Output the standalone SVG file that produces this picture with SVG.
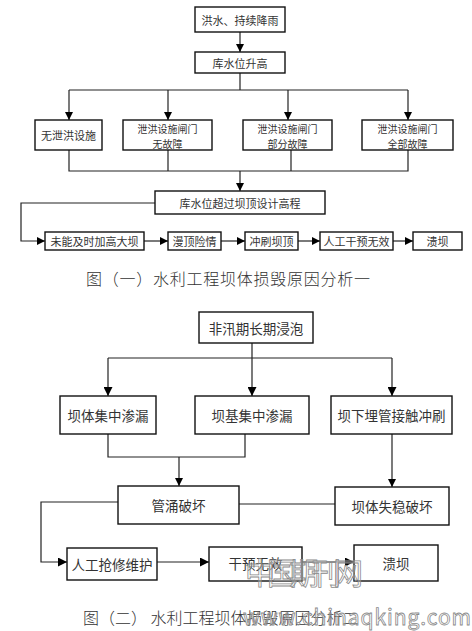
<svg xmlns="http://www.w3.org/2000/svg" width="472" height="631" viewBox="0 0 472 631">
<defs>
<marker id="ah" viewBox="0 0 10 10" refX="10" refY="5" markerWidth="8" markerHeight="8" markerUnits="userSpaceOnUse" orient="auto">
<path d="M0,0 L10,5 L0,10 Z" fill="#000"/>
</marker>
<marker id="ah2" viewBox="0 0 10 10" refX="10" refY="5" markerWidth="10" markerHeight="9" markerUnits="userSpaceOnUse" orient="auto">
<path d="M0,0 L10,5 L0,10 Z" fill="#000"/>
</marker>
</defs>
<style>
.box{fill:#fff;stroke:#111;stroke-width:1.4}
.ln{fill:none;stroke:#222;stroke-width:1.2}
.t1{font-family:"Noto Sans CJK SC","Liberation Sans",sans-serif;font-size:11px;fill:#333;text-anchor:middle;dominant-baseline:central}
.t1s{font-family:"Noto Sans CJK SC","Liberation Sans",sans-serif;font-size:10px;fill:#333;text-anchor:middle;dominant-baseline:central}
.t2{font-family:"Noto Sans CJK SC","Liberation Sans",sans-serif;font-size:13.5px;fill:#333;text-anchor:middle;dominant-baseline:central}
.cap{font-family:"Noto Sans CJK SC","Liberation Sans",sans-serif;font-size:16px;fill:#333;font-weight:300;dominant-baseline:central}
.wm{font-family:"Noto Sans CJK SC","DejaVu Sans Mono",monospace;fill:#fff;fill-opacity:0.3;stroke:#8a8a8a;stroke-width:0.8}
</style>
<rect width="472" height="631" fill="#fff"/>

<g id="connectors1">
<path class="ln" d="M240,32 V52" marker-end="url(#ah)"/>
<path class="ln" d="M240,73 V90 M69,90 H408"/>
<path class="ln" d="M69,90 V120" marker-end="url(#ah)"/>
<path class="ln" d="M168,90 V120" marker-end="url(#ah)"/>
<path class="ln" d="M288,90 V120" marker-end="url(#ah)"/>
<path class="ln" d="M408,90 V120" marker-end="url(#ah)"/>
<path class="ln" d="M69,150 V171 H408 V150 M168,150 V171 M291,150 V171"/>
<path class="ln" d="M240,171 V191" marker-end="url(#ah)"/>
<path class="ln" d="M155,203 H21 V241 H45" marker-end="url(#ah)"/>
<path class="ln" d="M144,241 H168" marker-end="url(#ah)"/>
<path class="ln" d="M221,241 H245" marker-end="url(#ah)"/>
<path class="ln" d="M298,241 H320" marker-end="url(#ah)"/>
<path class="ln" d="M393,241 H413" marker-end="url(#ah)"/>
</g>

<g id="n1"><rect class="box" x="195" y="7" width="90" height="25"/><text class="t1" x="240" y="19.5">洪水、持续降雨</text></g>
<g id="n2"><rect class="box" x="195" y="52" width="90" height="21"/><text class="t1" x="240" y="62.5">库水位升高</text></g>
<g id="n3"><rect class="box" x="35" y="120" width="67" height="30"/><text class="t1" x="68.5" y="135">无泄洪设施</text></g>
<g id="n4"><rect class="box" x="123" y="120" width="89" height="30"/><text class="t1s" x="167.5" y="128">泄洪设施闸门</text><text class="t1s" x="167.5" y="143">无故障</text></g>
<g id="n5"><rect class="box" x="243" y="120" width="89" height="30"/><text class="t1s" x="287.5" y="128">泄洪设施闸门</text><text class="t1s" x="287.5" y="143">部分故障</text></g>
<g id="n6"><rect class="box" x="362" y="120" width="91" height="30"/><text class="t1s" x="407.5" y="128">泄洪设施闸门</text><text class="t1s" x="407.5" y="143">全部故障</text></g>
<g id="n7"><rect class="box" x="155" y="191" width="170" height="23"/><text class="t1" x="240" y="202.5">库水位超过坝顶设计高程</text></g>
<g id="n8"><rect class="box" x="45" y="232" width="99" height="18"/><text class="t1" x="94.5" y="241">未能及时加高大坝</text></g>
<g id="n9"><rect class="box" x="168" y="232" width="53" height="18"/><text class="t1" x="194.5" y="241">漫顶险情</text></g>
<g id="n10"><rect class="box" x="245" y="232" width="53" height="18"/><text class="t1" x="271.5" y="241">冲刷坝顶</text></g>
<g id="n11"><rect class="box" x="320" y="232" width="73" height="18"/><text class="t1" x="356.5" y="241">人工干预无效</text></g>
<g id="n12"><rect class="box" x="413" y="232" width="49" height="18"/><text class="t1" x="437.5" y="241">溃坝</text></g>

<text class="cap" x="86" y="278" textLength="284">图（一）水利工程坝体损毁原因分析一</text>

<g id="connectors2">
<path class="ln" d="M252,343 V358 M108,358 H392"/>
<path class="ln" d="M108,358 V396" marker-end="url(#ah2)"/>
<path class="ln" d="M252,358 V396" marker-end="url(#ah2)"/>
<path class="ln" d="M392,358 V396" marker-end="url(#ah2)"/>
<path class="ln" d="M108,434 V457 H245 V434"/>
<path class="ln" d="M179,457 V486" marker-end="url(#ah)"/>
<path class="ln" d="M392,434 V487" marker-end="url(#ah)"/>
<path class="ln" d="M239,504 H335"/>
<path class="ln" d="M118,502 H41 V562 H67" marker-end="url(#ah2)"/>
<path class="ln" d="M157,562 H209" marker-end="url(#ah2)"/>
<path class="ln" d="M302,562 H354" marker-end="url(#ah2)"/>
</g>

<g id="m1"><rect class="box" x="199" y="312" width="114" height="31"/><text class="t2" x="256" y="327.5">非汛期长期浸泡</text></g>
<g id="m2"><rect class="box" x="60" y="396" width="96" height="38"/><text class="t2" x="108" y="415">坝体集中渗漏</text></g>
<g id="m3"><rect class="box" x="195" y="396" width="114" height="38"/><text class="t2" x="252" y="415">坝基集中渗漏</text></g>
<g id="m4"><rect class="box" x="331" y="396" width="121" height="38"/><text class="t2" x="391.5" y="415">坝下埋管接触冲刷</text></g>
<g id="m5"><rect class="box" x="118" y="486" width="121" height="38"/><text class="t2" x="178.5" y="505">管涌破坏</text></g>
<g id="m6"><rect class="box" x="335" y="487" width="114" height="38"/><text class="t2" x="392" y="506">坝体失稳破坏</text></g>
<g id="m7"><rect class="box" x="67" y="548" width="90" height="32"/><text class="t2" x="112" y="564">人工抢修维护</text></g>
<g id="m8"><rect class="box" x="209" y="547" width="93" height="34"/><text class="t2" x="255.5" y="563">干预无效</text></g>
<g id="m9"><rect class="box" x="354" y="545" width="84" height="36"/><text class="t2" x="396" y="563">溃坝</text></g>

<text class="cap" x="83" y="617">图（二） 水利工程坝体损毁原因分析二</text>

<text class="wm" x="245" y="584" font-size="30" textLength="118">中国期刊网</text>
<text class="wm" x="243" y="625" font-size="21" textLength="228" font-family="DejaVu Sans Mono, monospace">www.chinaqking.com</text>
</svg>
